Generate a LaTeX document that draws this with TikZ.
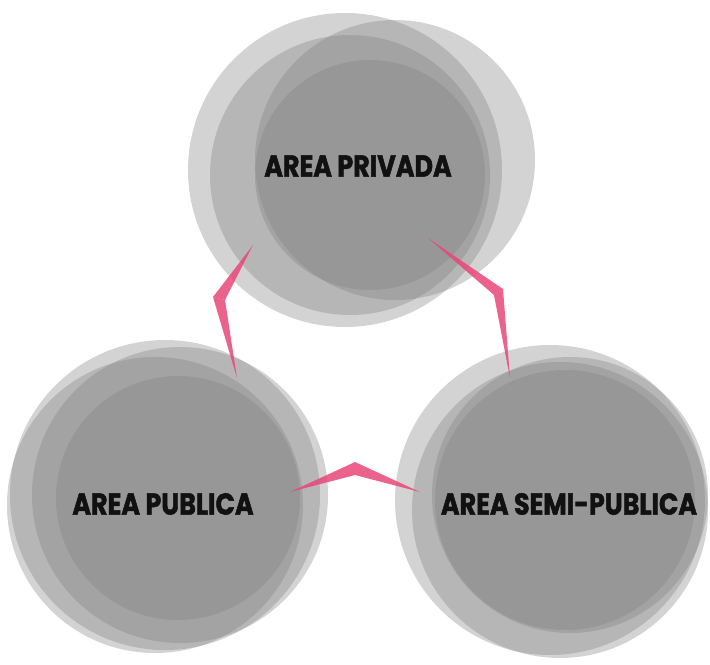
\documentclass[tikz,border=0pt]{standalone}
\usepackage{fontspec}
\usetikzlibrary{calc}
\newfontfamily\lblfont{Poppins}[FakeStretch=0.84,FakeBold=1.6]
\definecolor{ink}{HTML}{111111}
\definecolor{discgray}{HTML}{808080}
\definecolor{rose}{HTML}{E84678}
\tikzset{
  disc/.style={fill=discgray,fill opacity=0.35,draw=none},
  needle/.style={fill=rose,fill opacity=0.85,draw=none},
  lbl/.style={font=\lblfont\bfseries\fontsize{21.5}{26}\selectfont,text=ink,inner sep=0pt}
}
\begin{document}
\begin{tikzpicture}[x=0.025cm,y=-0.025cm]
  \useasboundingbox (0,0) rectangle (710,664);

  % grupos de circulos
  \foreach \cx/\cy/\r in {345/170/157, 395/160/140, 350/175/140, 370/175/115}
    \fill[disc] (\cx,\cy) circle[radius=\r];
  \foreach \cx/\cy/\r in {165/495/155, 155/505/148, 180/495/148, 178/498/122}
    \fill[disc] (\cx,\cy) circle[radius=\r];
  \foreach \cx/\cy/\r in {550/500/155, 570/495/138, 560/510/148, 565/500/130}
    \fill[disc] (\cx,\cy) circle[radius=\r];

  % puntos de los conectores
  \coordinate (pv-l) at (253,245);
  \coordinate (kL) at (213,297);
  \coordinate (pb-t) at (237,378);
  \coordinate (pv-r) at (428,238);
  \coordinate (kR) at (503,289);
  \coordinate (sp-t) at (510,378);
  \coordinate (pb-r) at (290,492);
  \coordinate (kB) at (355,462);
  \coordinate (sp-l) at (420,492);

  \fill[needle] (pv-l) -- (kL) -- ($(kL)+(12,3)$) -- cycle;
  \fill[needle] (kL) -- (pb-t) -- ($(kL)+(12,3)$) -- cycle;
  \fill[needle] (pv-r) -- (kR) -- ($(kR)+(-9,6)$) -- cycle;
  \fill[needle] (kR) -- (sp-t) -- ($(kR)+(-9,6)$) -- cycle;
  \fill[needle] (pb-r) -- (kB) -- (sp-l) -- ($(kB)+(0,13)$) -- cycle;

  \node[lbl] (priv) at (358,166) {AREA PRIVADA};
  \node[lbl] (publ) at (163,504) {AREA PUBLICA};
  \node[lbl] (semi) at (569,504) {AREA SEMI-PUBLICA};
\end{tikzpicture}
\end{document}
